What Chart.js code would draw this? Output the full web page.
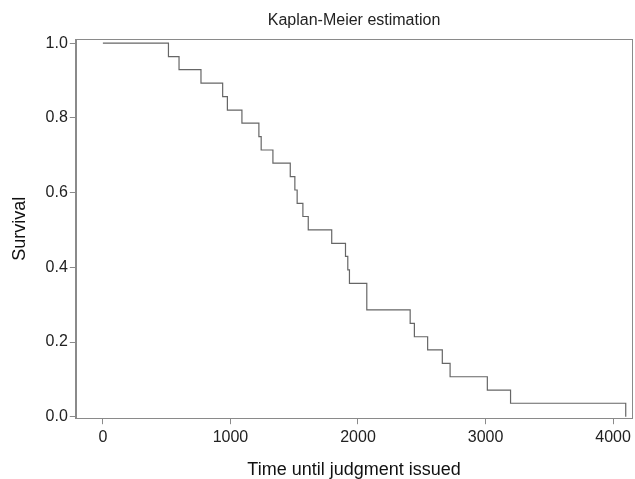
<!DOCTYPE html>
<html>
<head>
<meta charset="utf-8">
<script src="https://cdn.jsdelivr.net/npm/chart.js@4/dist/chart.umd.min.js"></script>
<style>
  html, body { margin: 0; padding: 0; background: #fff; }
  #wrap { width: 635px; height: 479px; }
</style>
</head>
<body>
<div id="wrap"><canvas id="km"></canvas></div>
<script>
// KM curve
const times = [0, 514, 597, 769, 939, 976, 1090, 1223, 1241, 1333, 1469, 1505, 1523, 1568, 1610,
  1794, 1902, 1920, 1933, 2069, 2409, 2442, 2546, 2661, 2722, 3014, 3196, 4099];
const survival = [1.0, 0.964, 0.929, 0.893, 0.857, 0.821, 0.786, 0.75, 0.714, 0.679, 0.643, 0.607,
  0.571, 0.536, 0.5, 0.464, 0.429, 0.393, 0.357, 0.286, 0.25, 0.214, 0.179, 0.143, 0.107, 0.071, 0.036, 0.0];
const xTicks = [0, 1000, 2000, 3000, 4000];
const yTicks = [0.0, 0.2, 0.4, 0.6, 0.8, 1.0];

const font = "'Liberation Sans', Arial, sans-serif";
const axisGrey = "#8a8a8a";

// box around the plot
const frame = {
  id: "frame",
  afterDraw(chart) {
    const a = chart.chartArea;
    const c = chart.ctx;
    c.save();
    c.strokeStyle = axisGrey;
    c.lineWidth = 1;
    c.strokeRect(Math.round(a.left) + 0.5, Math.round(a.top) + 0.5,
      Math.round(a.right - a.left), Math.round(a.bottom - a.top));
    c.restore();
  },
};

new Chart(document.getElementById("km"), {
  type: "line",
  data: {
    datasets: [
      {
        label: "Survival",
        data: times.map((t, i) => ({ x: t, y: survival[i] })),
        stepped: true,
        borderColor: "#666",
        borderWidth: 1.2,
        pointRadius: 0,
        fill: false,
      },
    ],
  },
  options: {
    responsive: true,
    maintainAspectRatio: false,
    animation: false,
    layout: {
      padding: { left: 0, right: 2, top: 8, bottom: 0 },
    },
    plugins: {
      legend: { display: false },
      tooltip: { enabled: false },
      title: {
        display: true,
        text: "Kaplan-Meier estimation",
        fullSize: false,
        color: "#222",
        font: { family: font, size: 16, weight: "normal" },
        padding: { top: 3, bottom: 9 },
      },
    },
    scales: {
      x: {
        type: "linear",
        min: -212,
        max: 4150,
        afterBuildTicks: (s) => { s.ticks = xTicks.map((v) => ({ value: v })); },
        grid: {
          drawOnChartArea: false,
          drawTicks: true,
          tickLength: 6,
          color: axisGrey,
        },
        border: { color: axisGrey },
        ticks: {
          color: "#222",
          padding: 4,
          maxRotation: 0,
          font: { family: font, size: 16 },
          callback: (v) => String(v),
        },
        title: {
          display: true,
          text: "Time until judgment issued",
          color: "#111",
          font: { family: font, size: 18 },
          padding: { top: 8, bottom: -2 },
        },
      },
      y: {
        min: -0.004,
        max: 1.0107,
        afterBuildTicks: (s) => { s.ticks = yTicks.map((v) => ({ value: v })); },
        grid: {
          drawOnChartArea: false,
          drawTicks: true,
          tickLength: 6,
          color: axisGrey,
        },
        border: { color: axisGrey },
        ticks: {
          color: "#222",
          padding: 2,
          font: { family: font, size: 16 },
          callback: (v) => Number(v).toFixed(1),
        },
        title: {
          display: true,
          text: "Survival",
          color: "#111",
          font: { family: font, size: 18 },
          padding: { top: 9, bottom: 13 },
        },
      },
    },
  },
  plugins: [frame],
});
</script>
</body>
</html>
